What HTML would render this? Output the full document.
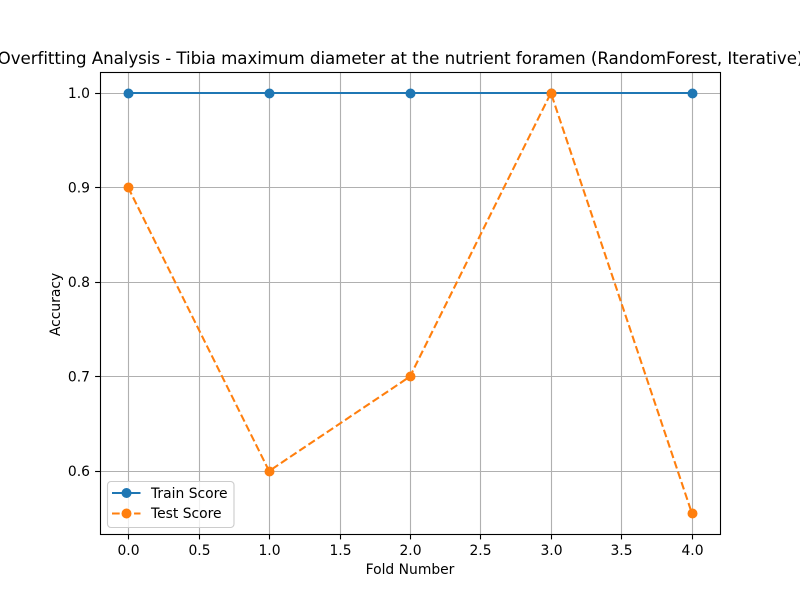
<!DOCTYPE html>
<html>
<head>
<meta charset="utf-8">
<style>
html,body{margin:0;padding:0;background:#fff;}
svg{display:block;}
text{font-family:"DejaVu Sans","Liberation Sans",sans-serif;fill:#000;}
</style>
</head>
<body>
<svg id="chart" width="800" height="600" viewBox="0 0 800 600" xmlns="http://www.w3.org/2000/svg">
<rect x="0" y="0" width="800" height="600" fill="#ffffff"/>
<text x="400.5" y="64" font-size="16.67" letter-spacing="-0.05" text-anchor="middle">Overfitting Analysis - Tibia maximum diameter at the nutrient foramen (RandomForest, Iterative)</text>
<text x="410" y="574" font-size="13.89" text-anchor="middle">Fold Number</text>
<text x="0" y="0" font-size="13.89" text-anchor="middle" transform="translate(60,304.5) rotate(-90)">Accuracy</text>
<g id="grid"></g>
<g id="ticks"></g>
<g id="series"></g>
<rect x="100.5" y="72.5" width="620" height="462" fill="none" stroke="#000" stroke-width="1.11"/>
<g>
<rect x="107.5" y="481.5" width="126.5" height="46" rx="3.5" ry="3.5" fill="#fff" fill-opacity="0.8" stroke="#cccccc" stroke-width="1.11"/>
<line x1="112" y1="493" x2="140.5" y2="493" stroke="#1f77b4" stroke-width="2.08"/>
<circle cx="126.5" cy="493" r="5" fill="#1f77b4"/>
<text x="151" y="498" font-size="13.89">Train Score</text>
<line x1="112" y1="513.5" x2="140.5" y2="513.5" stroke="#ff7f0e" stroke-width="2.08" stroke-dasharray="7.7 3.33"/>
<circle cx="126.5" cy="513.5" r="5" fill="#ff7f0e"/>
<text x="151" y="518" font-size="13.89">Test Score</text>
</g>
</svg>
<script>
const folds = [0, 1, 2, 3, 4];
const trainScores = [1.0, 1.0, 1.0, 1.0, 1.0];
const testScores = [0.9, 0.6, 0.7, 1.0, 0.5556];
const xTickValues = [0.0, 0.5, 1.0, 1.5, 2.0, 2.5, 3.0, 3.5, 4.0];
const yTickValues = [0.6, 0.7, 0.8, 0.9, 1.0];

const NS = 'http://www.w3.org/2000/svg';
const plotLeft = 100, plotRight = 720, plotTop = 72, plotBottom = 534;

function extent(values) {
  const lo = Math.min.apply(null, values);
  const hi = Math.max.apply(null, values);
  const pad = (hi - lo) * 0.05;
  return [lo - pad, hi + pad];
}
const xDomain = extent(folds);
const yDomain = extent(trainScores.concat(testScores));

function xScale(v) {
  return plotLeft + (v - xDomain[0]) / (xDomain[1] - xDomain[0]) * (plotRight - plotLeft);
}
function yScale(v) {
  return plotBottom - (v - yDomain[0]) / (yDomain[1] - yDomain[0]) * (plotBottom - plotTop);
}
function snapX(p) {
  return Math.floor(p + 0.5 + 1e-3) + 0.5;
}
function snapY(p) {
  return Math.floor(p + 1e-3) + 0.5;
}
function make(tag, attrs, parent) {
  const el = document.createElementNS(NS, tag);
  Object.keys(attrs).forEach(function (k) { el.setAttribute(k, attrs[k]); });
  parent.appendChild(el);
  return el;
}

const gridGroup = document.getElementById('grid');
const tickGroup = document.getElementById('ticks');
const seriesGroup = document.getElementById('series');

xTickValues.forEach(function (v) {
  const x = snapX(xScale(v));
  const g = make('line', {x1: x, x2: x, y1: plotTop, y2: plotBottom, stroke: '#b0b0b0', 'stroke-width': 1.11}, gridGroup);
  
  
  const t = make('line', {x1: x, x2: x, y1: plotBottom, y2: plotBottom + 5.4, stroke: '#000', 'stroke-width': 1.11}, tickGroup);
  
  
  const l = make('text', {x: x, y: 555, 'font-size': 13.89, 'text-anchor': 'middle'}, tickGroup);
  
  
  l.textContent = v.toFixed(1);
});

yTickValues.forEach(function (v) {
  const y = snapY(yScale(v));
  const g = make('line', {x1: plotLeft, x2: plotRight, y1: y, y2: y, stroke: '#b0b0b0', 'stroke-width': 1.11}, gridGroup);
  
  
  const t = make('line', {x1: plotLeft - 4.9, x2: plotLeft, y1: y, y2: y, stroke: '#000', 'stroke-width': 1.11}, tickGroup);
  
  
  const l = make('text', {x: 90, y: yScale(v) + 5, 'font-size': 13.89, 'text-anchor': 'end'}, tickGroup);
  
  
  l.textContent = v.toFixed(1);
});

function drawSeries(values, color, dash, lineName, pointName) {
  const pts = folds.map(function (f, i) { return xScale(f).toFixed(2) + ',' + yScale(values[i]).toFixed(2); }).join(' ');
  const attrs = {points: pts, fill: 'none', stroke: color, 'stroke-width': 2.08};
  if (dash) attrs['stroke-dasharray'] = dash;
  const line = make('polyline', attrs, seriesGroup);
  
  
  folds.forEach(function (f, i) {
    const c = make('circle', {cx: snapX(xScale(f)), cy: snapY(yScale(values[i])), r: 5, fill: color}, seriesGroup);
    
    
  });
}
drawSeries(trainScores, '#1f77b4', null, 'train-score-line', 'train-score-point');
drawSeries(testScores, '#ff7f0e', '7.7 3.33', 'test-score-line', 'test-score-point');
</script>
</body>
</html>
